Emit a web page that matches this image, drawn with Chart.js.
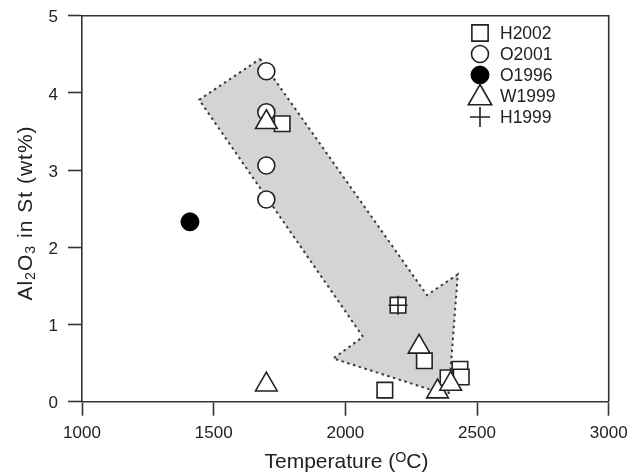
<!DOCTYPE html>
<html><head><meta charset="utf-8">
<script src="https://cdn.jsdelivr.net/npm/chart.js@4/dist/chart.umd.min.js"></script>
<style>html,body{margin:0;padding:0;background:#fff}canvas{display:block}</style>
</head><body>
<canvas id="c" width="627" height="472"></canvas>
<script>
// ---- data ----
const seriesNames = ['H2002', 'O2001', 'O1996', 'W1999', 'H1999'];
const h2002X = [1760, 2200, 2300, 2150, 2390, 2435, 2440];
const h2002Y = [3.60, 1.25, 0.53, 0.15, 0.31, 0.42, 0.32];
const o2001X = [1700, 1700, 1700, 1700];
const o2001Y = [4.28, 3.75, 3.06, 2.62];
const o1996X = [1410];
const o1996Y = [2.33];
const w1999X = [1700, 1700, 2280, 2350, 2400];
const w1999Y = [3.62, 0.22, 0.71, 0.13, 0.23];
const h1999X = [2200];
const h1999Y = [1.25];
// shaded trend arrow outline (closed polygon)
const arrowX = [1676, 2310, 2427, 2392, 1954, 2067, 1445, 1676];
const arrowY = [4.44, 1.38, 1.65, 0.08, 0.56, 0.84, 3.91, 4.44];
const xTickValues = [1000, 1500, 2000, 2500, 3000];
const yTickValues = [0, 1, 2, 3, 4, 5];
const xTitleParts = [{t: 'Temperature ('}, {t: 'O', s: 0.68, dy: -6.5}, {t: 'C)'}];
const yTitleParts = [{t: 'Al'}, {t: '2', s: 0.68, dy: 3.3}, {t: 'O'}, {t: '3', s: 0.68, dy: 3.3}, {t: ' in St (wt%)'}];

const zip = (xs, ys) => xs.map((x, i) => ({x: x, y: ys[i]}));
const INK = '#222';
const FONT = '"Liberation Sans", Arial, sans-serif';

function drawRich(ctx, parts, size) {
  let total = 0;
  const widths = parts.map(p => {
    ctx.font = (size * (p.s || 1)) + 'px ' + FONT;
    const w = ctx.measureText(p.t).width;
    total += w;
    return w;
  });
  let x = -total / 2;
  parts.forEach((p, i) => {
    ctx.font = (size * (p.s || 1)) + 'px ' + FONT;
    ctx.fillText(p.t, x, p.dy || 0);
    x += widths[i];
  });
}

const decorPlugin = {
  id: 'decor',
  afterDraw(chart) {
    const ctx = chart.ctx, a = chart.chartArea;
    ctx.save();
    ctx.strokeStyle = '#333';
    ctx.lineWidth = 1.6;
    ctx.beginPath();
    ctx.moveTo(a.left, a.top);
    ctx.lineTo(a.right, a.top);
    ctx.lineTo(a.right, a.bottom);
    ctx.stroke();
    ctx.fillStyle = INK;
    ctx.textBaseline = 'alphabetic';
    ctx.textAlign = 'left';
    ctx.save();
    ctx.translate(346.5, 468);
    drawRich(ctx, xTitleParts, 21);
    ctx.restore();
    ctx.save();
    ctx.translate(31.7, 213);
    ctx.rotate(-Math.PI / 2);
    if ('letterSpacing' in ctx) ctx.letterSpacing = '1px';
    drawRich(ctx, yTitleParts, 21);
    if ('letterSpacing' in ctx) ctx.letterSpacing = '0px';
    ctx.restore();
    const lx = 480, ly0 = 33, step = 21;
    chart.data.datasets.forEach(ds => {
      if (ds.legendRow === undefined) return;
      const y = ly0 + ds.legendRow * step;
      ctx.fillStyle = ds.backgroundColor;
      ctx.strokeStyle = ds.borderColor;
      ctx.lineWidth = ds.borderWidth;
      Chart.helpers.drawPoint(ctx, {pointStyle: ds.pointStyle, radius: ds.legendRadius, borderWidth: ds.borderWidth, rotation: 0}, lx, y + (ds.pointStyle === 'triangle' ? 2 : 0));
      ctx.fillStyle = INK;
      ctx.font = '17.5px ' + FONT;
      ctx.textBaseline = 'middle';
      ctx.fillText(ds.label, 500, y + 1.5);
    });
    ctx.restore();
  }
};

new Chart(document.getElementById('c'), {
  type: 'scatter',
  data: {
    datasets: [
      {label: seriesNames[0], data: zip(h2002X, h2002Y), pointStyle: 'rect', pointRadius: 11, legendRadius: 11.5,
       backgroundColor: '#fff', borderColor: INK, borderWidth: 1.6, order: 0, legendRow: 0, clip: false},
      {label: seriesNames[1], data: zip(o2001X, o2001Y), pointStyle: 'circle', pointRadius: 8.5, legendRadius: 8.5,
       backgroundColor: '#fff', borderColor: INK, borderWidth: 1.6, order: 0, legendRow: 1, clip: false},
      {label: seriesNames[2], data: zip(o1996X, o1996Y), pointStyle: 'circle', pointRadius: 9, legendRadius: 9,
       backgroundColor: '#000', borderColor: '#000', borderWidth: 1, order: 0, legendRow: 2, clip: false},
      {label: seriesNames[3], data: zip(w1999X, w1999Y), pointStyle: 'triangle', pointRadius: 12.5, legendRadius: 13.5,
       backgroundColor: '#fff', borderColor: INK, borderWidth: 1.6, order: -1, legendRow: 3, clip: false},
      {label: seriesNames[4], data: zip(h1999X, h1999Y), pointStyle: 'cross', pointRadius: 9.5, legendRadius: 10,
       backgroundColor: '#fff', borderColor: INK, borderWidth: 1.6, order: -2, legendRow: 4, clip: false},
      {label: 'arrow', type: 'line', data: zip(arrowX, arrowY), fill: 'shape', backgroundColor: '#d4d4d4',
       borderColor: '#3a3a3a', borderDash: [2.5, 3.5], borderWidth: 2, pointRadius: 0, tension: 0, order: 10, clip: false}
    ]
  },
  options: {
    responsive: false,
    animation: false,
    events: [],
    layout: {padding: {left: 0, top: 15.7, right: 18.3, bottom: 0}},
    plugins: {legend: {display: false}, tooltip: {enabled: false}, title: {display: false}},
    scales: {
      x: {
        type: 'linear', min: 1000, max: 3000,
        afterBuildTicks: s => { s.ticks = xTickValues.map(v => ({value: v})); },
        afterFit: s => { s.height = 472 - 401.7; s.paddingLeft = 0; s.paddingRight = 0; },
        ticks: {color: INK, font: {family: FONT, size: 17}, padding: 7, maxRotation: 0, callback: v => String(v)},
        grid: {drawOnChartArea: false, drawTicks: true, tickLength: 14, tickColor: '#333', tickWidth: 1.6},
        border: {display: true, color: '#333', width: 1.6}
      },
      y: {
        type: 'linear', min: 0, max: 5,
        afterBuildTicks: s => { s.ticks = yTickValues.map(v => ({value: v})); },
        afterFit: s => { s.width = 82; s.paddingTop = 0; s.paddingBottom = 0; },
        ticks: {color: INK, font: {family: FONT, size: 17}, padding: 10, labelOffset: 2, callback: v => String(v)},
        grid: {drawOnChartArea: false, drawTicks: true, tickLength: 14, tickColor: '#333', tickWidth: 1.6},
        border: {display: true, color: '#333', width: 1.6}
      }
    }
  },
  plugins: [decorPlugin]
});
</script>
</body></html>
